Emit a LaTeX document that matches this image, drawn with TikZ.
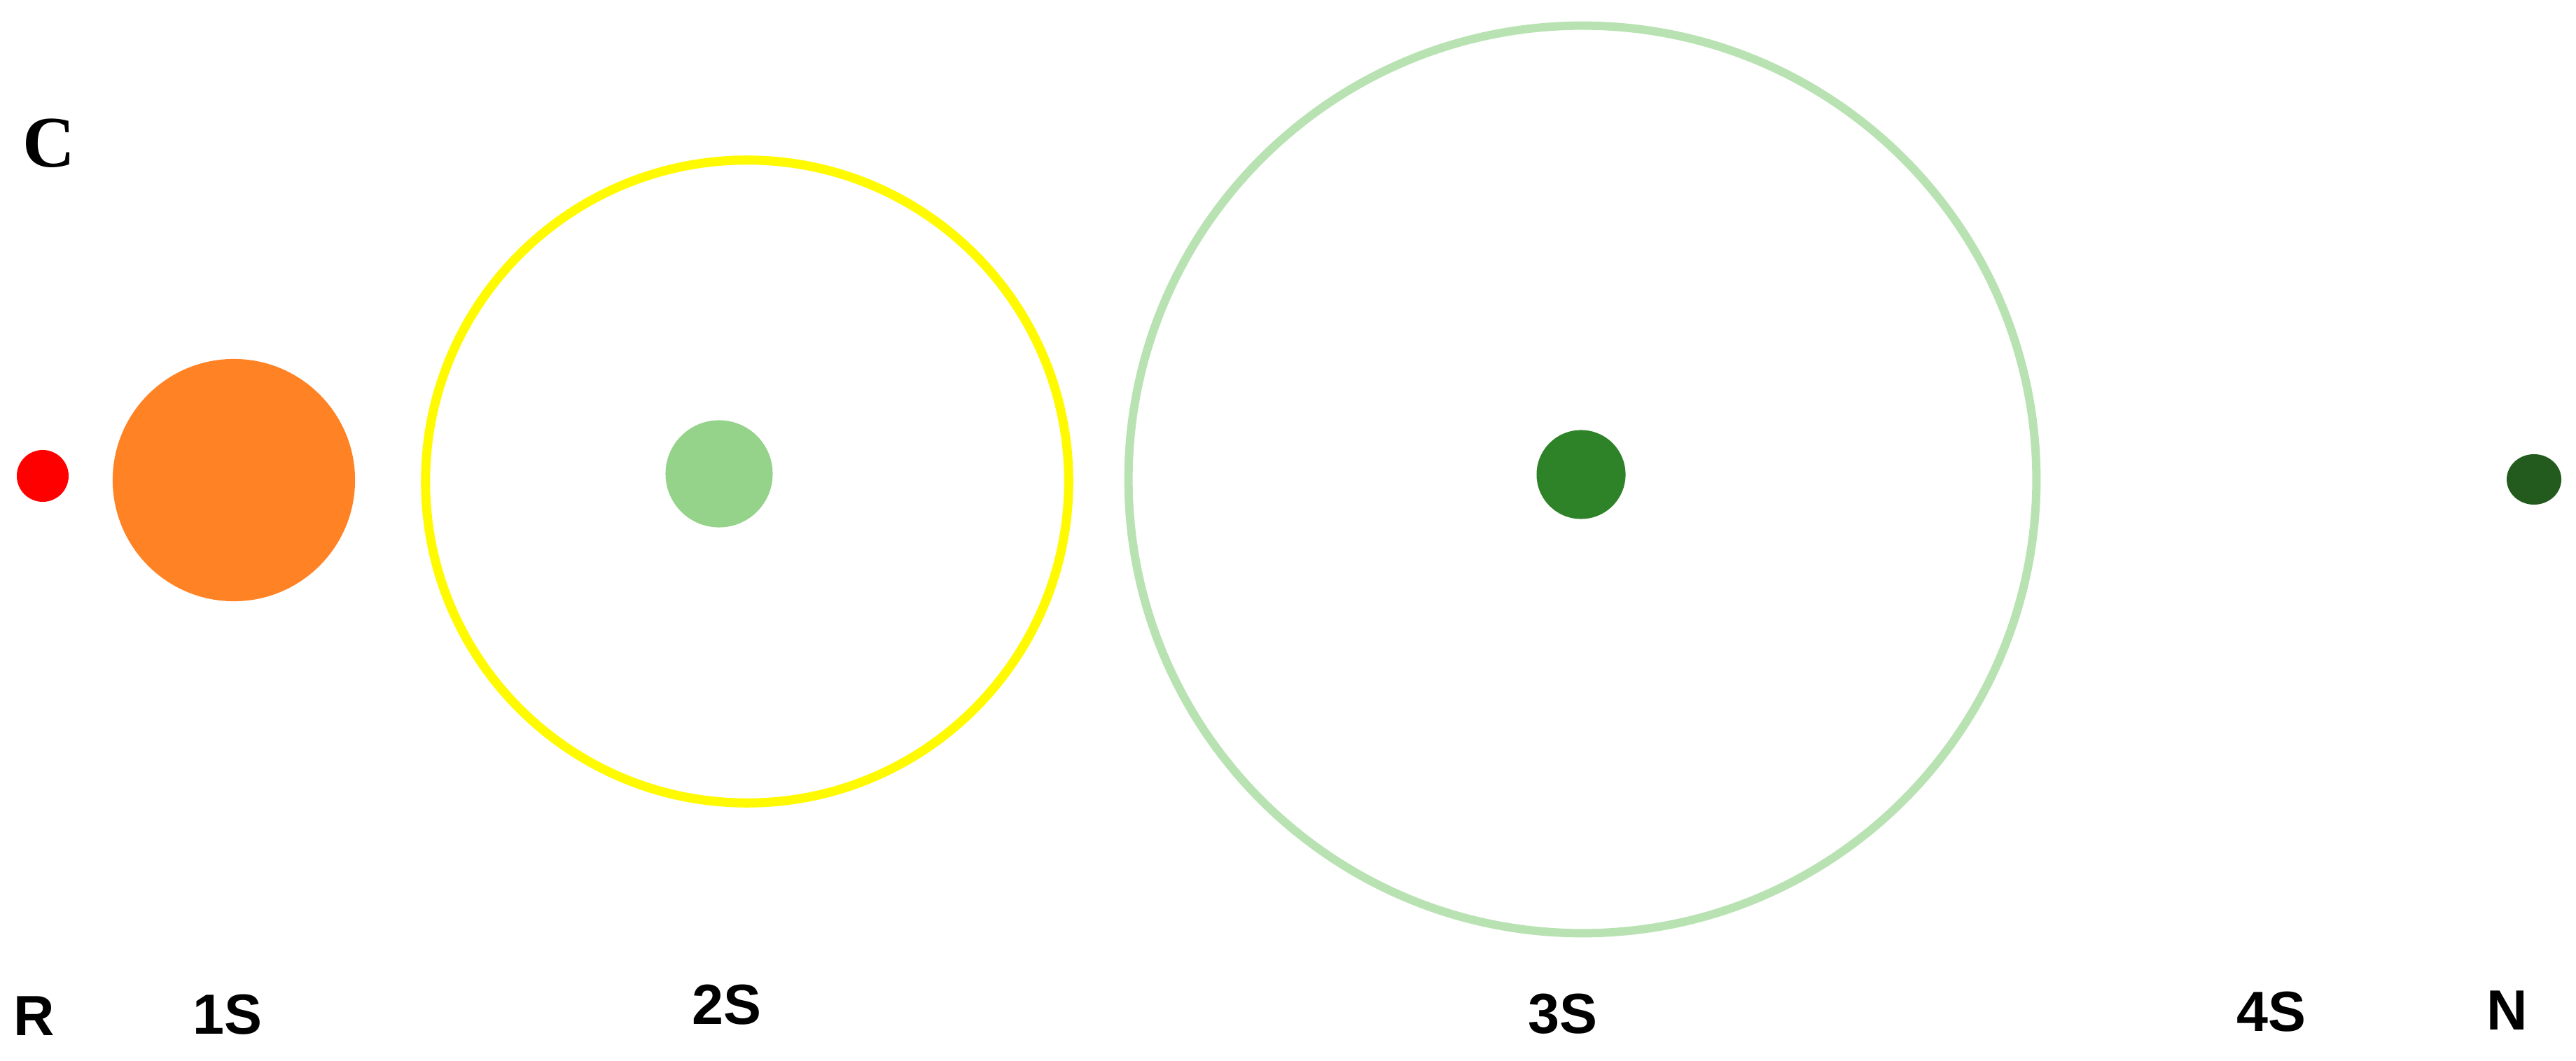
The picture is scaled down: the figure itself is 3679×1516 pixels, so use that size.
\documentclass[tikz,border=0pt]{standalone}
\usepackage{fontspec}
\setmainfont{Liberation Serif}
\setsansfont{Liberation Sans}
\usetikzlibrary{positioning,shapes.geometric}
\definecolor{rcol}{HTML}{FF0000}
\definecolor{onecol}{HTML}{FF8225}
\definecolor{twocol}{HTML}{FFFA00}
\definecolor{twocore}{HTML}{95D28A}
\definecolor{threecol}{HTML}{B8E2B2}
\definecolor{threecore}{HTML}{2E8228}
\definecolor{ncol}{HTML}{235A1E}
\tikzset{
  my dot/.style={
    circle,
    inner sep=0pt,
    draw=none
  },
  my shell/.style={
    circle,
    inner sep=0pt,
    fill=none
  },
  my label/.style={
    inner sep=0pt,
    font=\sffamily\bfseries
  },
  my picture/.style={
    x=0.01cm,
    y=-0.01cm
  }
}

\begin{document}
\begin{tikzpicture}[my picture]
\useasboundingbox (0,0) rectangle (3679,1516);
\node[inner sep=0pt,font=\rmfamily\bfseries] (panel) at (70,205) {\fontsize{29.5}{31}\selectfont C};
% shells and cores
\node[my dot,fill=rcol,minimum size=0.74cm]     (r)   at (61,680)   {};
\node[my dot,fill=onecol,minimum size=3.46cm]   (s1)  at (334,686)  {};
\node[my shell,draw=twocol,line width=0.13cm,minimum size=9.18cm]    (s2) at (1067,688) {};
\node[my dot,fill=twocore,minimum size=1.53cm]  (c2)  at (1027,677) {};
\node[my shell,draw=threecol,line width=0.12cm,minimum size=12.96cm] (s3) at (2260,685) {};
\node[my dot,fill=threecore,minimum size=1.27cm] (c3) at (2258,678) {};
\node[my dot,ellipse,fill=ncol,minimum width=0.78cm,minimum height=0.72cm] (n) at (3619,685) {};
% labels
\node[my label] (lr)  at (49,1452)   {\fontsize{23}{25}\selectfont R};
\node[my label] (l1)  at (325,1450)  {\fontsize{23}{25}\selectfont 1S};
\node[my label] (l2)  at (1038,1436) {\fontsize{23}{25}\selectfont 2S};
\node[my label] (l3)  at (2232,1449) {\fontsize{23}{25}\selectfont 3S};
\node[my label] (l4)  at (3244,1446) {\fontsize{23}{25}\selectfont 4S};
\node[my label] (ln)  at (3581,1444) {\fontsize{23}{25}\selectfont N};
\end{tikzpicture}
\end{document}
